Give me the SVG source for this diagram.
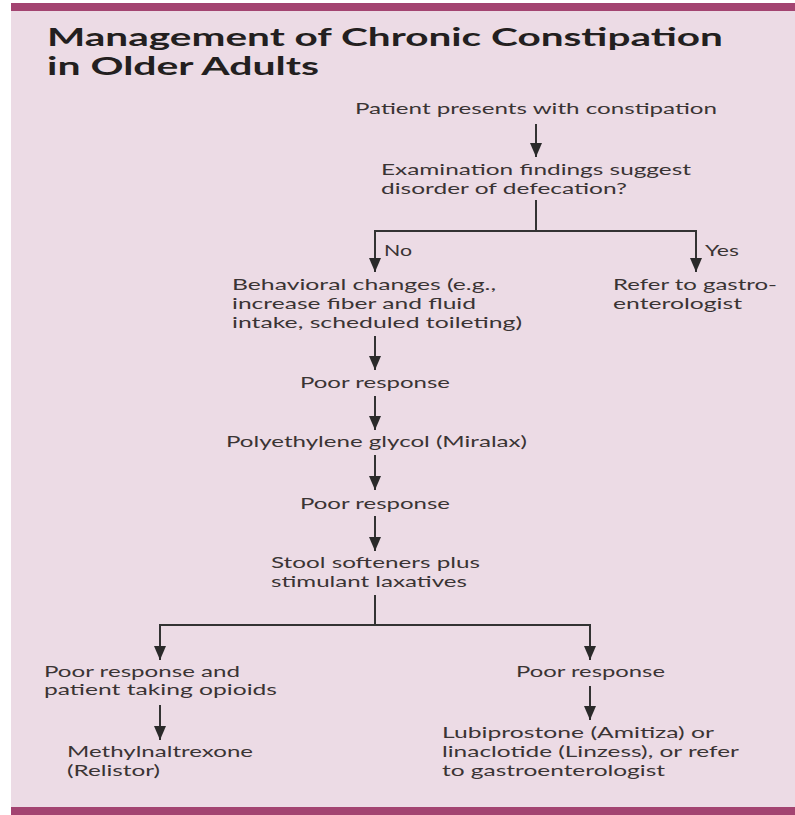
<svg xmlns="http://www.w3.org/2000/svg" width="795" height="815" viewBox="0 0 795 815">
<defs>
<style>
text{font-family:Lato,"Open Sans","Liberation Sans",sans-serif;font-size:15px;fill:#3a3434;}
.title{font-size:24px;font-weight:bold;fill:#231f20;}
.ln{stroke:#333;stroke-width:2;fill:none;}
</style>
<marker id="ah" viewBox="0 0 14 12" refX="14" refY="6" markerWidth="14" markerHeight="12" markerUnits="userSpaceOnUse" orient="auto">
<path d="M0,0 L14,6 L0,12 z" fill="#2a2a2a"/>
</marker>
</defs>
<rect x="0" y="0" width="795" height="815" fill="#ffffff"/>
<rect x="11" y="3" width="784" height="812" fill="#ecdbe5"/>
<rect x="11" y="3" width="784" height="8" fill="#a34471"/>
<rect x="11" y="807" width="784" height="8" fill="#a34471"/>
<g id="title">
<text class="title" x="47" y="46" textLength="676" lengthAdjust="spacingAndGlyphs">Management of Chronic Constipation</text>
<text class="title" x="47" y="75" textLength="272" lengthAdjust="spacingAndGlyphs">in Older Adults</text>
</g>
<g id="connectors">
<path class="ln" d="M536,124 V157" marker-end="url(#ah)"/>
<path class="ln" d="M536,200 V231 M375,231 H696"/>
<path class="ln" d="M375,230 V272" marker-end="url(#ah)"/>
<path class="ln" d="M696,230 V272" marker-end="url(#ah)"/>
<path class="ln" d="M375,336 V370" marker-end="url(#ah)"/>
<path class="ln" d="M375,396 V430" marker-end="url(#ah)"/>
<path class="ln" d="M375,455 V490" marker-end="url(#ah)"/>
<path class="ln" d="M375,516 V551" marker-end="url(#ah)"/>
<path class="ln" d="M375,595 V625 M160,625 H590"/>
<path class="ln" d="M160,624 V660" marker-end="url(#ah)"/>
<path class="ln" d="M590,624 V660" marker-end="url(#ah)"/>
<path class="ln" d="M160,705 V740" marker-end="url(#ah)"/>
<path class="ln" d="M590,686 V720" marker-end="url(#ah)"/>
<text x="384" y="256" textLength="28" lengthAdjust="spacingAndGlyphs">No</text>
<text x="705" y="256" textLength="34" lengthAdjust="spacingAndGlyphs">Yes</text>
</g>
<g id="start">
<text x="355" y="114" textLength="362" lengthAdjust="spacingAndGlyphs">Patient presents with constipation</text>
</g>
<g id="exam">
<text x="381" y="175" textLength="310" lengthAdjust="spacingAndGlyphs">Examination findings suggest</text>
<text x="381" y="194" textLength="246" lengthAdjust="spacingAndGlyphs">disorder of defecation?</text>
</g>
<g id="behavioral">
<text x="232" y="290" textLength="264" lengthAdjust="spacingAndGlyphs">Behavioral changes (e.g.,</text>
<text x="232" y="309" textLength="244" lengthAdjust="spacingAndGlyphs">increase fiber and fluid</text>
<text x="232" y="328" textLength="290" lengthAdjust="spacingAndGlyphs">intake, scheduled toileting)</text>
</g>
<g id="refer">
<text x="613" y="290" textLength="164" lengthAdjust="spacingAndGlyphs">Refer to gastro-</text>
<text x="613" y="309" textLength="129" lengthAdjust="spacingAndGlyphs">enterologist</text>
</g>
<g id="poor1">
<text x="300" y="388" textLength="150" lengthAdjust="spacingAndGlyphs">Poor response</text>
</g>
<g id="peg">
<text x="226" y="447" textLength="301" lengthAdjust="spacingAndGlyphs">Polyethylene glycol (Miralax)</text>
</g>
<g id="poor2">
<text x="300" y="509" textLength="150" lengthAdjust="spacingAndGlyphs">Poor response</text>
</g>
<g id="stool">
<text x="271" y="568" textLength="209" lengthAdjust="spacingAndGlyphs">Stool softeners plus</text>
<text x="271" y="587" textLength="196" lengthAdjust="spacingAndGlyphs">stimulant laxatives</text>
</g>
<g id="opioids">
<text x="44" y="677" textLength="196" lengthAdjust="spacingAndGlyphs">Poor response and</text>
<text x="44" y="695" textLength="233" lengthAdjust="spacingAndGlyphs">patient taking opioids</text>
</g>
<g id="methyl">
<text x="67" y="757" textLength="186" lengthAdjust="spacingAndGlyphs">Methylnaltrexone</text>
<text x="67" y="776" textLength="93" lengthAdjust="spacingAndGlyphs">(Relistor)</text>
</g>
<g id="poor3">
<text x="516" y="677" textLength="149" lengthAdjust="spacingAndGlyphs">Poor response</text>
</g>
<g id="lubi">
<text x="442" y="738" textLength="272" lengthAdjust="spacingAndGlyphs">Lubiprostone (Amitiza) or</text>
<text x="442" y="757" textLength="297" lengthAdjust="spacingAndGlyphs">linaclotide (Linzess), or refer</text>
<text x="442" y="776" textLength="223" lengthAdjust="spacingAndGlyphs">to gastroenterologist</text>
</g>
</svg>
